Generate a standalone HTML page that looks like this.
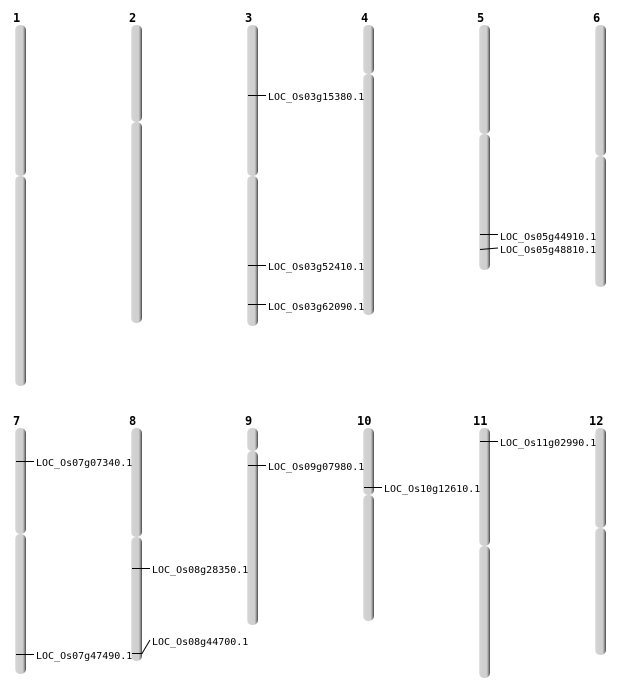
<!DOCTYPE html>
<html><head><meta charset="utf-8"><style>body{margin:0;background:#fff}svg{display:block}</style></head><body>
<svg width="634" height="700" xmlns="http://www.w3.org/2000/svg">
<defs><linearGradient id="g" x1="0" x2="1" y1="0" y2="0">
<stop offset="0" stop-color="#e6e6e6"/><stop offset="0.15" stop-color="#d2d2d2"/><stop offset="0.7" stop-color="#cfcfcf"/><stop offset="0.85" stop-color="#999"/><stop offset="1" stop-color="#444"/></linearGradient></defs>
<g fill="url(#g)">
<rect x="15" y="25" width="11" height="151" rx="5"/><rect x="15" y="176" width="11" height="210" rx="5"/>
<rect x="131" y="25" width="11" height="97" rx="5"/><rect x="131" y="122" width="11" height="201" rx="5"/>
<rect x="247" y="25" width="11" height="151" rx="5"/><rect x="247" y="176" width="11" height="150" rx="5"/>
<rect x="363" y="25" width="11" height="49" rx="5"/><rect x="363" y="74" width="11" height="241" rx="5"/>
<rect x="479" y="25" width="11" height="109" rx="5"/><rect x="479" y="134" width="11" height="136" rx="5"/>
<rect x="595" y="25" width="11" height="131" rx="5"/><rect x="595" y="156" width="11" height="131" rx="5"/>
<rect x="15" y="428" width="11" height="106" rx="5"/><rect x="15" y="534" width="11" height="140" rx="5"/>
<rect x="131" y="428" width="11" height="109" rx="5"/><rect x="131" y="537" width="11" height="124" rx="5"/>
<rect x="247" y="428" width="11" height="23" rx="5"/><rect x="247" y="451" width="11" height="174" rx="5"/>
<rect x="363" y="428" width="11" height="67" rx="5"/><rect x="363" y="495" width="11" height="126" rx="5"/>
<rect x="479" y="428" width="11" height="118" rx="5"/><rect x="479" y="546" width="11" height="132" rx="5"/>
<rect x="595" y="428" width="11" height="100" rx="5"/><rect x="595" y="528" width="11" height="127" rx="5"/>
</g>
<g font-family="'DejaVu Sans Mono','Liberation Mono',monospace" font-weight="bold" font-size="12" fill="#000">
<text x="13" y="22">1</text><text x="129" y="22">2</text><text x="245" y="22">3</text><text x="361" y="22">4</text><text x="477" y="22">5</text><text x="593" y="22">6</text>
<text x="13" y="425">7</text><text x="129" y="425">8</text><text x="245" y="425">9</text><text x="357" y="425">10</text><text x="473" y="425">11</text><text x="589" y="425">12</text>
</g>
<g stroke="#000" stroke-width="1" fill="none">
<path d="M248 95.5H266M248 265.5H266M248 304.5H266M480 234.5H498M480 249.5L498 248M16 461.5H34M132 568.5H150M248 465.5H266M364 487.5H382M480 441.5H498M16 654.5H34M132 653.5H142L150 640"/>
</g>
<g font-family="'DejaVu Sans Mono','Liberation Mono',monospace" font-size="10" fill="#000">
<text x="268" y="100">LOC_Os03g15380.1</text>
<text x="268" y="270">LOC_Os03g52410.1</text>
<text x="268" y="310">LOC_Os03g62090.1</text>
<text x="500" y="240">LOC_Os05g44910.1</text>
<text x="500" y="253">LOC_Os05g48810.1</text>
<text x="36" y="466">LOC_Os07g07340.1</text>
<text x="152" y="573">LOC_Os08g28350.1</text>
<text x="268" y="470">LOC_Os09g07980.1</text>
<text x="384" y="492">LOC_Os10g12610.1</text>
<text x="500" y="446">LOC_Os11g02990.1</text>
<text x="36" y="659">LOC_Os07g47490.1</text>
<text x="152" y="645">LOC_Os08g44700.1</text>
</g>
</svg>
</body></html>
